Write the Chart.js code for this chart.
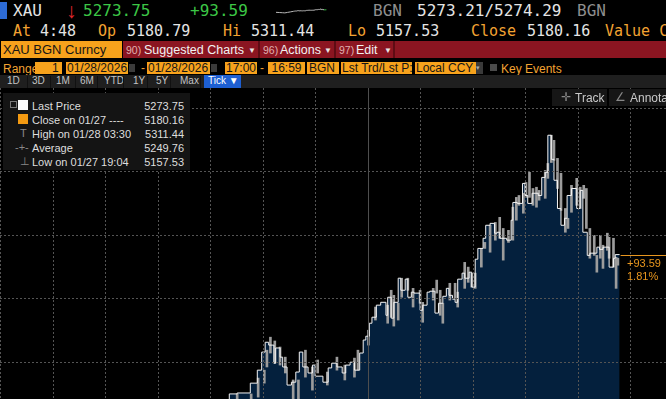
<!DOCTYPE html>
<html>
<head>
<meta charset="utf-8">
<script src="https://cdn.jsdelivr.net/npm/chart.js@4.4.1/dist/chart.umd.min.js"></script>
<style>
body{margin:0;background:#000;width:666px;height:399px;overflow:hidden;position:relative;font-family:"Liberation Sans",Arial,sans-serif}
.a{position:absolute;white-space:pre;line-height:1}
.m{font-family:"DejaVu Sans Mono",monospace}
.am{color:#f3a332}.wh{color:#e4e4e4}.gr{color:#3cc646}.gy{color:#8e8e8e}
.box{position:absolute;background:#f7a21c;color:#161616;font-size:12px;line-height:12px;height:12px;white-space:pre;overflow:hidden}
.btn{position:absolute;top:76px;font-size:10px;color:#c4c4c4;line-height:1}
.sep{position:absolute;top:76px;width:1px;height:12px;background:#111}
.lg{position:absolute;font-size:11px;line-height:1;color:#dedede;white-space:pre}
.lv{position:absolute;font-size:11px;line-height:1;color:#dedede;right:482px}
.mn{position:absolute;top:44px;font-size:12.5px;color:#f2f2f2;line-height:1;white-space:pre}
.mp{position:absolute;top:45px;font-size:10.5px;color:#e0b0b0;line-height:1}
.mv{position:absolute;top:47px;font-size:8px;color:#e6e6e6;line-height:1}
</style>
</head>
<body>
<!-- quote header -->
<div class="a" style="left:0;top:2px;width:7px;height:17px;background:#2d6bd6"></div>
<div class="a m wh" style="left:13px;top:3px;font-size:16px" id="tk"></div>
<div class="a" style="left:66px;top:0px;font-size:21px;color:#e0262c">↓</div>
<div class="a m gr" style="left:83px;top:3px;font-size:16px" id="lastTxt"></div>
<div class="a m gr" style="left:190px;top:3px;font-size:16px" id="chgTxt"></div>
<canvas id="spark" width="56" height="15" style="position:absolute;left:275px;top:3px"></canvas>
<div class="a m gy" style="left:373px;top:3px;font-size:16px">BGN</div>
<div class="a m wh" style="left:417px;top:3px;font-size:16px" id="bidAsk"></div>
<div class="a m gy" style="left:577px;top:3px;font-size:16px">BGN</div>

<div class="a m am" style="left:13px;top:24px;font-size:15px">At</div>
<div class="a m wh" style="left:40px;top:24px;font-size:15px">4:48</div>
<div class="a m am" style="left:98px;top:24px;font-size:15px">Op</div>
<div class="a m wh" style="left:127px;top:24px;font-size:15px" id="opTxt"></div>
<div class="a m am" style="left:223px;top:24px;font-size:15px">Hi</div>
<div class="a m wh" style="left:251px;top:24px;font-size:15px" id="hiTxt"></div>
<div class="a m am" style="left:348px;top:24px;font-size:15px">Lo</div>
<div class="a m wh" style="left:376px;top:24px;font-size:15px" id="loTxt"></div>
<div class="a m am" style="left:471px;top:24px;font-size:15px">Close</div>
<div class="a m wh" style="left:527px;top:24px;font-size:15px" id="clTxt"></div>
<div class="a m am" style="left:605px;top:24px;font-size:15px">Value C</div>

<!-- security / menu bar -->
<div class="a" style="left:1px;top:41px;width:121px;height:17px;background:#f7a21c"></div>
<div class="a" style="left:3px;top:43px;font-size:13px;color:#151515">XAU BGN Curncy</div>
<div class="a" style="left:123px;top:41px;width:543px;height:17px;background:#8b1521"></div>
<div class="a" style="left:258px;top:41px;width:2px;height:17px;background:#5e0c14"></div>
<div class="a" style="left:334px;top:41px;width:2px;height:17px;background:#5e0c14"></div>
<div class="a" style="left:393px;top:41px;width:2px;height:17px;background:#5e0c14"></div>
<div class="mp" style="left:126px">90)</div>
<div class="mn" style="left:144px">Suggested Charts</div>
<div class="mv" style="left:248px">▼</div>
<div class="mp" style="left:263px">96)</div>
<div class="mn" style="left:280px">Actions</div>
<div class="mv" style="left:324px">▼</div>
<div class="mp" style="left:339px">97)</div>
<div class="mn" style="left:356px">Edit</div>
<div class="mv" style="left:384px">▼</div>

<!-- range row -->
<div class="a am" style="left:3px;top:63px;font-size:12px">Range</div>
<div class="box" style="left:35px;top:62px;width:27px;text-align:right">1 </div>
<div class="box" style="left:66px;top:62px;width:61px;padding-left:1px">01/28/2026</div>
<div class="a" style="left:129px;top:64px;width:6px;height:8px;background:#3b3b3b"></div>
<div class="a am" style="left:141px;top:62px;font-size:12px">-</div>
<div class="box" style="left:147px;top:62px;width:62px;padding-left:1px">01/28/2026</div>
<div class="a" style="left:211px;top:64px;width:6px;height:8px;background:#3b3b3b"></div>
<div class="box" style="left:225px;top:62px;width:32px;text-align:center">17:00</div>
<div class="a am" style="left:260px;top:62px;font-size:12px">-</div>
<div class="box" style="left:268px;top:62px;width:37px;text-align:center">16:59</div>
<div class="box" style="left:307px;top:62px;width:30px;padding-left:2px">BGN</div>
<div class="box" style="left:341px;top:62px;width:70px;padding-left:1px">Lst Trd/Lst P:</div>
<div class="box" style="left:415px;top:62px;width:60px;padding-left:1px">Local CCY</div>
<div class="a" style="left:476px;top:62px;width:7px;height:12px;background:#3a3a3a;color:#aaa;font-size:7px;line-height:12px">▾</div>
<div class="a" style="left:490px;top:64px;width:7px;height:7px;background:#4a4a4a"></div>
<div class="a am" style="left:501px;top:63px;font-size:12px">Key Events</div>

<!-- period row -->
<div class="a" style="left:0;top:75px;width:666px;height:13px;background:#1f1f1f"></div>
<div class="btn" style="left:7px">1D</div><div class="sep" style="left:27px"></div>
<div class="btn" style="left:32px">3D</div><div class="sep" style="left:50px"></div>
<div class="btn" style="left:56px">1M</div><div class="sep" style="left:75px"></div>
<div class="btn" style="left:80px">6M</div><div class="sep" style="left:97px"></div>
<div class="btn" style="left:104px">YTD</div><div class="sep" style="left:123px"></div>
<div class="btn" style="left:133px">1Y</div><div class="sep" style="left:147px"></div>
<div class="btn" style="left:156px">5Y</div><div class="sep" style="left:170px"></div>
<div class="btn" style="left:180px">Max</div><div class="sep" style="left:200px"></div>
<div class="a" style="left:204px;top:75px;width:37px;height:13px;background:#1d5fd2"></div>
<div class="btn" style="left:208px;color:#fff">Tick ▼</div>

<!-- chart -->
<canvas id="c" width="666" height="311" style="position:absolute;left:0;top:88px"></canvas>

<!-- legend -->
<div class="a" style="left:3px;top:93px;width:187px;height:77px;background:#141414"></div>
<div class="a" style="left:10px;top:101px;width:5px;height:5px;border:1px solid #777"></div>
<div class="a" style="left:18px;top:100px;width:10px;height:10px;background:#fafafa"></div>
<div class="a" style="left:18px;top:114px;width:10px;height:10px;background:#f39a12"></div>
<div class="lg" style="left:20px;top:128px;color:#888">T</div>
<div class="lg" style="left:15px;top:142px;color:#888">-+-</div>
<div class="lg" style="left:20px;top:156px;color:#888">⊥</div>
<div id="legend"></div>

<!-- track / annotate -->
<div class="a" style="left:552px;top:89px;width:55px;height:17px;background:#161616"></div>
<div class="a" style="left:609px;top:89px;width:57px;height:17px;background:#161616"></div>
<div class="a" style="left:561px;top:91px;font-size:12px;color:#888">✛</div>
<div class="a" style="left:575px;top:92px;font-size:12px;color:#c9c9c9">Track</div>
<div class="a" style="left:615px;top:91px;font-size:12px;color:#888">∠</div>
<div class="a" style="left:630px;top:92px;font-size:12px;color:#c9c9c9">Annotate</div>

<!-- last price tag -->
<div class="a" style="left:627px;top:258px;font-size:11px;color:#e8961e" id="tagChg"></div>
<div class="a" style="left:627px;top:271px;font-size:11px;color:#e8961e" id="tagPct"></div>

<script>
// minutes after the 17:00 session start (01/27 17:00 -> 01/28 04:48)
const minutesFrom1700 = [
  0, 46, 91, 124, 160, 206, 246, 262,
  271, 286, 294, 299, 303, 307, 313, 315, 320, 323, 328, 333, 338, 342, 346, 352, 357, 360,
  369, 375, 379, 385, 391, 395, 400, 405, 411, 415, 418, 422, 425, 430, 435, 441, 443, 447,
  450, 455, 458, 463, 466, 470, 473, 480, 483, 488, 491, 497, 501, 506, 510, 513, 517, 520,
  523, 528, 531, 536, 539, 543, 546, 552, 555, 560, 565, 568, 571, 579, 584, 586, 591, 597,
  600, 603, 608, 615, 619, 623, 626, 630, 633, 637, 641, 645, 648, 653, 659, 663, 666, 671,
  674, 682, 685, 689, 696, 701, 703, 708
];
// last trade price, XAU BGN
const lastPrice = [
  5180.2, 5172.0, 5165.0, 5157.5, 5176.0, 5198.0, 5219.0, 5226.0,
  5229.8, 5230.1, 5233.2, 5237.3, 5243.0, 5246.1, 5245.2, 5239.5, 5244.3, 5241.4, 5238.3, 5232.6, 5233.5, 5236.7, 5243.0, 5238.3, 5236.4, 5238.9,
  5235.4, 5233.5, 5238.0, 5239.5, 5238.3, 5236.4, 5238.9, 5239.8, 5237.3, 5242.7, 5246.8, 5248.0, 5252.1, 5254.0, 5257.8, 5258.7, 5254.6, 5260.3,
  5253.7, 5258.7, 5266.3, 5262.5, 5266.0, 5260.3, 5261.9, 5261.6, 5256.2, 5257.8, 5261.9, 5262.2, 5255.3, 5258.4, 5260.6, 5263.1, 5260.9, 5259.7,
  5258.7, 5266.0, 5267.9, 5266.3, 5268.2, 5263.5, 5272.3, 5275.7, 5278.9, 5283.0, 5283.6, 5280.5, 5280.8, 5278.9, 5278.3, 5284.6, 5290.2, 5289.9,
  5296.2, 5292.4, 5289.9, 5293.1, 5292.4, 5298.1, 5299.7, 5311.4, 5303.8, 5297.2, 5288.3, 5283.0, 5285.2, 5292.4, 5294.6, 5288.3, 5294.0, 5280.8,
  5273.5, 5274.2, 5276.1, 5275.4, 5276.1, 5269.8, 5272.6, 5273.75
];
// tick ranges (low / high) of the busier buckets
const rangeMinutes = [
  271, 287, 295, 302, 305, 309, 314, 320, 326, 335, 341, 349, 357, 363, 374, 385, 394, 405, 409, 421,
  429, 443, 447, 450, 455, 459, 466, 472, 480, 483, 495, 499, 503, 506, 514, 520, 523, 531, 535, 539,
  543, 550, 554, 560, 566, 571, 575, 581, 586, 590, 593, 598, 601, 605, 609, 613, 616, 623, 626, 630,
  633, 637, 641, 646, 649, 653, 659, 663, 667, 670, 674, 679, 682, 686, 689, 694, 696, 701, 704, 706
];
const rangeLow = [
  5228.2, 5228.2, 5228.8, 5233.2, 5238.3, 5242.7, 5239.5, 5238.9, 5236.4, 5228.2, 5228.2, 5235.1, 5231.0, 5236.4, 5232.6, 5237.3, 5234.2, 5235.1, 5237.3, 5245.2,
  5253.1, 5252.1, 5254.0, 5251.2, 5253.1, 5260.3, 5262.5, 5257.2, 5258.4, 5252.4, 5259.4, 5261.6, 5254.6, 5252.1, 5259.4, 5260.0, 5257.2, 5263.1, 5265.0, 5263.5,
  5263.1, 5269.8, 5275.7, 5274.5, 5278.3, 5278.9, 5272.0, 5277.6, 5278.3, 5284.6, 5289.3, 5286.8, 5291.8, 5291.8, 5289.3, 5288.7, 5290.9, 5291.5, 5297.8, 5302.8,
  5303.5, 5294.6, 5287.7, 5280.8, 5282.0, 5287.1, 5289.3, 5288.3, 5291.5, 5282.0, 5272.6, 5273.5, 5268.2, 5272.6, 5269.4, 5275.1, 5272.6, 5269.8, 5263.1, 5270.4
];
const rangeHigh = [
  5229.8, 5229.8, 5234.8, 5237.3, 5243.6, 5247.7, 5246.5, 5244.6, 5241.4, 5234.2, 5234.2, 5243.6, 5238.3, 5240.5, 5236.7, 5241.4, 5238.9, 5241.1, 5243.6, 5249.9,
  5257.2, 5257.8, 5262.5, 5260.9, 5258.4, 5266.3, 5266.3, 5263.1, 5262.5, 5258.7, 5263.1, 5265.7, 5262.5, 5258.4, 5264.7, 5264.7, 5261.9, 5271.3, 5269.8, 5267.9,
  5267.9, 5275.7, 5277.6, 5283.0, 5283.9, 5285.5, 5282.0, 5281.4, 5288.7, 5291.8, 5292.4, 5293.1, 5296.5, 5299.7, 5294.6, 5295.0, 5294.0, 5300.3, 5302.5, 5311.4,
  5309.8, 5304.1, 5299.4, 5288.3, 5285.2, 5295.6, 5297.8, 5295.0, 5295.6, 5294.6, 5282.0, 5279.8, 5273.5, 5279.8, 5276.7, 5280.5, 5279.2, 5278.9, 5272.9, 5272.6
];

const quoteLast = "5273.75", quoteChg = "+93.59", quotePct = "1.81%";
const quoteBid = "5273.21", quoteAsk = "5274.29";
const quoteOpen = "5180.79", quoteHigh = "5311.44", quoteLow = "5157.53", quoteClose = "5180.16";
const legendLabels = ["Last Price", "Close on 01/27 ----", "High on 01/28 03:30", "Average", "Low on 01/27 19:04"];
const legendValues = ["5273.75", "5180.16", "5311.44", "5249.76", "5157.53"];

document.getElementById('tk').textContent = 'XAU';
document.getElementById('lastTxt').textContent = quoteLast;
document.getElementById('chgTxt').textContent = quoteChg;
document.getElementById('bidAsk').textContent = quoteBid + '/' + quoteAsk;
document.getElementById('opTxt').textContent = quoteOpen;
document.getElementById('hiTxt').textContent = quoteHigh;
document.getElementById('loTxt').textContent = quoteLow;
document.getElementById('clTxt').textContent = quoteClose;
document.getElementById('tagChg').textContent = quoteChg;
document.getElementById('tagPct').textContent = quotePct;

var lg = document.getElementById('legend');
legendLabels.forEach(function(l, i){
  var t = document.createElement('div');
  t.className = 'lg'; t.style.left = '32px'; t.style.top = (101 + i * 14) + 'px';
  t.textContent = l;
  lg.appendChild(t);
  var v = document.createElement('div');
  v.className = 'lv'; v.style.top = (101 + i * 14) + 'px';
  v.textContent = legendValues[i];
  lg.appendChild(v);
});

const points = minutesFrom1700.map(function(m, i){ return {x: m, y: lastPrice[i]}; });
const ranges = rangeMinutes.map(function(m, i){ return {x: m, y: [rangeLow[i], rangeHigh[i]]}; });
const midnight = 420;

// dotted grid over the area, solid day separator, last price marker
const overlay = {
  id: 'overlay',
  afterDatasetsDraw: function(chart){
    const c = chart.ctx, x = chart.scales.x, y = chart.scales.y, area = chart.chartArea;
    c.save();
    c.lineWidth = 1;
    c.strokeStyle = '#545454';
    c.setLineDash([2, 2]);
    x.ticks.forEach(function(t){
      if (t.value % 60 !== 0 || t.value === midnight) return;
      var px = Math.round(x.getPixelForValue(t.value)) + 0.5;
      c.beginPath(); c.moveTo(px, area.top); c.lineTo(px, area.bottom); c.stroke();
    });
    y.ticks.forEach(function(t){
      if (Math.abs(t.value % 20) > 0.01) return;
      var py = Math.round(y.getPixelForValue(t.value)) + 0.5;
      c.beginPath(); c.moveTo(area.left, py); c.lineTo(area.right, py); c.stroke();
    });
    c.setLineDash([]);
    var mx = Math.round(x.getPixelForValue(midnight)) + 0.5;
    c.strokeStyle = '#4e4e4e';
    c.beginPath(); c.moveTo(mx, area.top); c.lineTo(mx, area.bottom); c.stroke();
    var ly = Math.round(y.getPixelForValue(lastPrice[lastPrice.length - 1])) + 0.5;
    var lx = x.getPixelForValue(minutesFrom1700[minutesFrom1700.length - 1]);
    c.strokeStyle = '#e8961e';
    c.beginPath(); c.moveTo(lx + 1, ly); c.lineTo(area.right, ly); c.stroke();
    c.restore();
  }
};

new Chart(document.getElementById('c').getContext('2d'), {
  type: 'line',
  data: {datasets: [
    {data: points, stepped: 'after', borderColor: '#f4f4f4', borderWidth: 1,
     pointRadius: 0, fill: 'start', backgroundColor: '#04203d', order: 0},
    {type: 'bar', data: ranges, backgroundColor: '#9c9c9c', barThickness: 2, borderWidth: 0, order: 1}
  ]},
  options: {
    responsive: false, animation: false,
    layout: {padding: 0},
    plugins: {legend: {display: false}, tooltip: {enabled: false}, filler: {drawTime: 'beforeDatasetsDraw'}},
    scales: {
      x: {
        type: 'linear', min: 0, max: 761, offset: false,
        ticks: {display: false, stepSize: 60},
        grid: {display: false, drawTicks: false},
        border: {display: false}
      },
      y: {
        min: 5228.2, max: 5326.3,
        ticks: {display: false, stepSize: 20},
        grid: {display: false, drawTicks: false},
        border: {display: false}
      }
    }
  },
  plugins: [overlay]
});

// header sparkline from the same series
new Chart(document.getElementById('spark').getContext('2d'), {
  type: 'line',
  data: {datasets: [{data: points, borderColor: '#b8b8b8', borderWidth: 1, pointRadius: 0,
    segment: {borderColor: function(ctx){ return ctx.p0DataIndex >= points.length - 8 ? '#3cc646' : undefined; }}}]},
  options: {
    responsive: false, animation: false, layout: {padding: 1},
    plugins: {legend: {display: false}, tooltip: {enabled: false}},
    scales: {x: {type: 'linear', display: false, min: 0, max: 760}, y: {display: false}}
  }
});
</script>
</body>
</html>
